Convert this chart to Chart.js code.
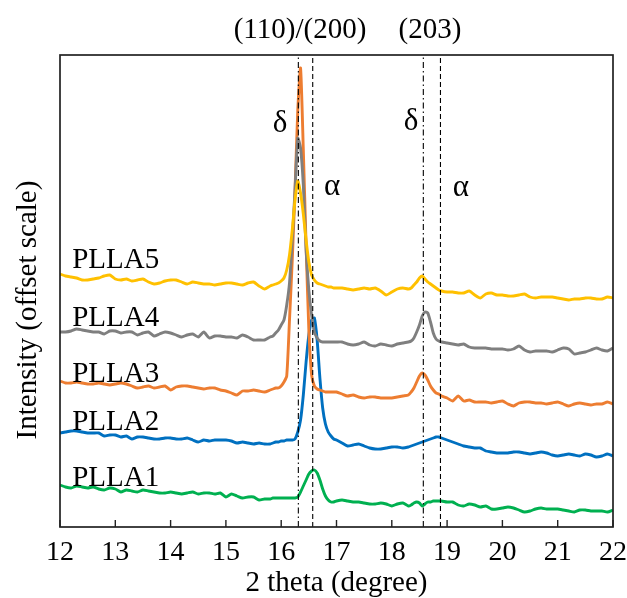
<!DOCTYPE html>
<html>
<head>
<meta charset="utf-8">
<script src="https://cdn.jsdelivr.net/npm/chart.js@4.4.1/dist/chart.umd.min.js"></script>
<style>
  html, body { margin: 0; padding: 0; background: #fff; }
  canvas { display: block; }
</style>
</head>
<body>
<canvas id="xrd" width="627" height="598"></canvas>
<script>
// 2 theta grid (degree), finer around the peaks
const twoTheta = [
  12.0,12.1,12.2,12.3,12.4,12.5,12.6,12.7,12.8,12.9,
  13.0,13.1,13.2,13.3,13.4,13.5,13.6,13.7,13.8,13.9,
  14.0,14.1,14.2,14.3,14.4,14.5,14.6,14.7,14.8,14.9,
  15.0,15.1,15.2,15.3,15.4,15.5,15.6,15.7,15.8,
  15.85,15.9,15.95,
  16.0,16.05,16.1,16.15,16.2,16.25,16.3,16.35,16.4,16.45,16.5,16.55,16.6,16.65,16.7,16.75,16.8,16.85,16.9,16.95,
  17.0,17.1,17.2,17.3,17.4,17.5,17.6,17.7,17.8,17.9,
  18.0,18.1,18.2,18.3,
  18.35,18.4,18.45,18.5,18.55,18.6,18.65,18.7,18.75,18.8,18.85,
  18.9,
  19.0,19.1,19.2,19.3,19.4,19.5,19.6,19.7,19.8,19.9,
  20.0,20.1,20.2,20.3,20.4,20.5,20.6,20.7,20.8,20.9,
  21.0,21.1,21.2,21.3,21.4,21.5,21.6,21.7,21.8,21.9,
  22.0
];

// intensities, already offset
const plla5 = [
  253,251,250,249,247,247,248,249,251,252,
  248,247,248,246,247,248,245,243,244,246,
  247,247,245,243,245,244,243,243,242,243,
  244,244,243,242,244,245,241,238,241,
  242,243,244,
  246,249,257,272,297,327,346,334,313,287,265,252,247,244,243,242,241,240,240,239,
  239,239,238,237,238,239,238,239,236,232,
  235,238,239,238,
  239,242,245,249,251,248,245,243,241,239,237,
  236,
  235,235,234,234,236,232,229,233,234,232,
  232,231,231,232,233,230,229,230,230,230,
  229,228,227,228,228,229,229,228,228,230,
  229
];
const plla4 = [
  195,195,196,198,197,196,195,195,193,196,
  196,194,195,195,192,194,195,191,193,195,
  194,192,190,192,193,190,195,189,191,191,
  190,190,189,192,190,187,187,187,190,
  191,194,197,
  202,207,222,244,287,337,389,379,342,277,237,212,195,189,186,185,185,185,185,185,
  185,185,183,182,183,185,182,181,183,182,
  181,183,184,185,
  186,189,195,202,211,215,214,205,194,188,186,
  185,
  184,183,182,183,180,179,179,179,178,178,
  178,177,178,181,177,175,176,176,176,175,
  177,179,178,173,174,175,177,179,177,176,
  179
];
const plla3 = [
  146,144,144,145,144,143,143,144,143,142,
  143,144,143,141,139,140,141,139,140,141,
  137,140,141,141,140,139,138,139,139,137,
  136,134,132,136,136,137,136,135,137,
  138,139,139,
  141,145,151,207,267,337,417,459,377,282,197,152,141,138,137,136,135,135,135,135,
  135,133,131,132,130,129,130,130,129,129,
  129,130,131,132,
  135,139,145,151,154,152,147,141,137,134,133,
  131,
  129,126,131,126,127,125,125,125,124,125,
  126,123,121,124,125,125,124,124,123,124,
  125,123,121,123,124,123,122,123,123,125,
  123
];
const plla2 = [
  94,95,96,96,95,94,94,94,91,92,
  92,90,91,88,90,90,89,88,88,89,
  89,88,88,89,87,85,87,86,87,87,
  87,86,84,85,84,83,84,83,83,
  84,85,85,
  86,86,87,87,87,88,95,107,132,165,192,207,209,187,149,119,103,95,91,88,
  87,84,81,82,83,81,79,78,78,79,
  80,80,79,80,
  81,82,83,84,85,86,87,88,89,90,90,
  89,
  87,85,83,81,80,79,79,76,75,74,
  74,74,75,75,74,73,74,75,74,72,
  71,72,73,72,71,73,72,70,71,73,
  71
];
const plla1 = [
  42,40,39,41,40,39,40,38,37,39,
  38,35,37,36,35,37,36,35,34,34,
  35,34,33,34,35,33,34,34,33,34,
  30,33,31,29,30,30,27,28,28,
  29,29,29,
  29,29,29,29,29,29,30,35,41,47,53,56,57,54,47,38,31,27,25,25,
  26,27,26,25,25,24,23,23,24,23,
  21,23,24,21,
  22,24,25,24,21,23,25,25,26,26,26,
  26,
  25,25,22,21,23,22,20,21,18,18,
  19,20,19,17,15,16,18,19,18,18,
  18,17,16,15,17,17,16,16,16,15,
  17
];

const seriesNames = ['PLLA1', 'PLLA2', 'PLLA3', 'PLLA4', 'PLLA5'];
const seriesValues = [plla1, plla2, plla3, plla4, plla5];
const seriesColors = ['#00B050', '#0070C0', '#ED7D31', '#7F7F7F', '#FFC000'];

const xTicks = [12, 13, 14, 15, 16, 17, 18, 19, 20, 21, 22];
const deltaLines = [16.31, 18.57];   // dash-dot
const alphaLines = [16.57, 18.88];   // dashed
const yMax = 472;

// text placed in data units
const nameSpots = [[12.22, 49], [12.22, 105], [12.22, 153], [12.22, 209], [12.22, 267]];
const greekMarks = [['δ', 15.98, 403], ['α', 16.92, 340], ['δ', 18.35, 405], ['α', 19.25, 339]];
const planeLabels = [['(110)/(200)', 16.34], ['(203)', 18.69]];

const serif = "'Liberation Serif', 'Times New Roman', serif";

const datasets = seriesValues.map((vals, i) => ({
  label: seriesNames[i],
  data: twoTheta.map((t, k) => ({ x: t, y: vals[k] })),
  borderColor: seriesColors[i],
  borderWidth: 2.9,
  pointRadius: 0,
  tension: 0.2,
  order: 5 - i
}));

deltaLines.forEach(v => datasets.push({
  data: [{ x: v, y: 0 }, { x: v, y: yMax }],
  borderColor: '#000', borderWidth: 1.1, borderDash: [6, 3, 1.5, 3],
  pointRadius: 0, order: -1
}));
alphaLines.forEach(v => datasets.push({
  data: [{ x: v, y: 0 }, { x: v, y: yMax }],
  borderColor: '#000', borderWidth: 1.1, borderDash: [5, 3],
  pointRadius: 0, order: -1
}));

const decor = {
  id: 'decor',
  afterDraw(chart) {
    const { ctx, chartArea: a, scales: { x, y } } = chart;
    ctx.save();

    // frame
    ctx.strokeStyle = '#222';
    ctx.lineWidth = 1.7;
    ctx.strokeRect(a.left, a.top, a.right - a.left, a.bottom - a.top);

    // inner ticks + tick labels
    ctx.lineWidth = 1.4;
    ctx.fillStyle = '#000';
    ctx.font = '28px ' + serif;
    ctx.textAlign = 'center';
    ctx.textBaseline = 'middle';
    xTicks.forEach(t => {
      const px = x.getPixelForValue(t);
      ctx.beginPath();
      ctx.moveTo(px, a.bottom);
      ctx.lineTo(px, a.bottom - 7);
      ctx.stroke();
      ctx.fillText(String(t), px, a.bottom + 26);
    });

    ctx.font = '29px ' + serif;
    ctx.fillText('2 theta (degree)', (a.left + a.right) / 2, a.bottom + 56);

    ctx.save();
    ctx.translate(28, 310);
    ctx.rotate(-Math.PI / 2);
    ctx.fillText('Intensity (offset scale)', 0, 0);
    ctx.restore();

    planeLabels.forEach(([txt, v]) => ctx.fillText(txt, x.getPixelForValue(v), 30));

    ctx.font = '31px ' + serif;
    greekMarks.forEach(([g, gx, gy]) => ctx.fillText(g, x.getPixelForValue(gx), y.getPixelForValue(gy)));

    ctx.font = '29px ' + serif;
    ctx.textAlign = 'left';
    nameSpots.forEach(([nx, ny], i) => ctx.fillText(seriesNames[i], x.getPixelForValue(nx), y.getPixelForValue(ny)));

    ctx.restore();
  }
};

new Chart(document.getElementById('xrd'), {
  type: 'line',
  data: { datasets },
  options: {
    responsive: false,
    animation: false,
    devicePixelRatio: 1,
    layout: { padding: { left: 60, right: 14, top: 55, bottom: 71 } },
    plugins: { legend: { display: false }, tooltip: { enabled: false } },
    scales: {
      x: { type: 'linear', min: 12, max: 22, display: false },
      y: { type: 'linear', min: 0, max: yMax, display: false }
    }
  },
  plugins: [decor]
});
</script>
</body>
</html>
